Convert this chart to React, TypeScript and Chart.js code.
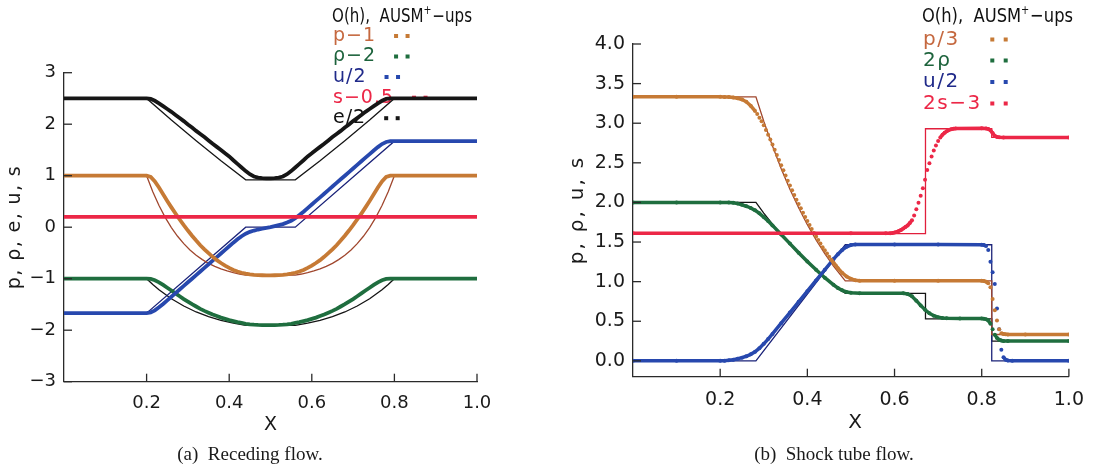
import React, { useEffect, useRef } from 'react';
import { Chart, registerables } from 'chart.js';

Chart.register(...registerables);
Chart.defaults.font.family = '"DejaVu Sans", "Liberation Sans", sans-serif';

// ================= Panel (a): Receding flow =================
const A_X = [0, 0.1, 0.2, 0.21, 0.22, 0.23, 0.24, 0.25, 0.26, 0.27, 0.28, 0.29, 0.3, 0.31, 0.32, 0.33, 0.34, 0.35, 0.36, 0.37, 0.38, 0.39, 0.4, 0.41, 0.42, 0.43, 0.44, 0.45, 0.46, 0.47, 0.48, 0.49, 0.5, 0.51, 0.52, 0.53, 0.54, 0.55, 0.56, 0.57, 0.58, 0.59, 0.6, 0.61, 0.62, 0.63, 0.64, 0.65, 0.66, 0.67, 0.68, 0.69, 0.7, 0.71, 0.72, 0.73, 0.74, 0.75, 0.76, 0.77, 0.78, 0.79, 0.8, 0.9, 1];
// numerical (AUSM+-ups) values
const A_E_NUM = [2.5, 2.5, 2.5, 2.49, 2.455, 2.405, 2.35, 2.295, 2.24, 2.18, 2.12, 2.06, 1.995, 1.935, 1.87, 1.81, 1.75, 1.685, 1.62, 1.56, 1.5, 1.435, 1.375, 1.3, 1.23, 1.16, 1.09, 1.03, 0.985, 0.962, 0.953, 0.95, 0.95, 0.953, 0.962, 0.985, 1.03, 1.09, 1.16, 1.23, 1.3, 1.375, 1.435, 1.5, 1.56, 1.62, 1.685, 1.75, 1.81, 1.87, 1.935, 1.995, 2.06, 2.12, 2.18, 2.24, 2.295, 2.35, 2.405, 2.455, 2.49, 2.5, 2.5, 2.5, 2.5];
const A_P_NUM = [1, 1, 1, 0.975, 0.89, 0.77, 0.64, 0.51, 0.385, 0.265, 0.15, 0.04, -0.065, -0.165, -0.26, -0.35, -0.43, -0.505, -0.575, -0.64, -0.695, -0.745, -0.79, -0.83, -0.86, -0.885, -0.903, -0.916, -0.925, -0.93, -0.933, -0.935, -0.935, -0.933, -0.93, -0.925, -0.916, -0.903, -0.885, -0.86, -0.83, -0.79, -0.745, -0.695, -0.64, -0.575, -0.505, -0.43, -0.35, -0.26, -0.165, -0.065, 0.04, 0.15, 0.265, 0.385, 0.51, 0.64, 0.77, 0.89, 0.975, 1, 1, 1, 1];
const A_R_NUM = [-1, -1, -1, -1.005, -1.03, -1.07, -1.12, -1.175, -1.23, -1.285, -1.34, -1.395, -1.445, -1.495, -1.54, -1.585, -1.625, -1.66, -1.695, -1.725, -1.755, -1.78, -1.805, -1.825, -1.845, -1.86, -1.875, -1.885, -1.892, -1.897, -1.9, -1.9, -1.9, -1.9, -1.897, -1.892, -1.885, -1.875, -1.86, -1.845, -1.825, -1.805, -1.78, -1.755, -1.725, -1.695, -1.66, -1.625, -1.585, -1.54, -1.495, -1.445, -1.395, -1.34, -1.285, -1.23, -1.175, -1.12, -1.07, -1.03, -1.005, -1, -1, -1, -1];
const A_U_NUM = [-1.67, -1.67, -1.67, -1.655, -1.615, -1.555, -1.49, -1.42, -1.35, -1.28, -1.21, -1.14, -1.07, -1.0, -0.93, -0.86, -0.79, -0.72, -0.65, -0.58, -0.51, -0.44, -0.37, -0.3, -0.235, -0.175, -0.125, -0.09, -0.065, -0.045, -0.03, -0.015, 0, 0.02, 0.04, 0.06, 0.09, 0.125, 0.175, 0.235, 0.3, 0.37, 0.44, 0.51, 0.58, 0.65, 0.72, 0.79, 0.86, 0.93, 1.0, 1.07, 1.14, 1.21, 1.28, 1.35, 1.42, 1.49, 1.555, 1.615, 1.655, 1.67, 1.67, 1.67, 1.67];
const A_S_X = [0, 1];
const A_S_NUM = [0.2, 0.2];
// exact O(h) values
const A_E_EX_X = [0, 0.2, 0.26, 0.32, 0.38, 0.44, 0.56, 0.62, 0.68, 0.74, 0.8, 1];
const A_E_EX = [2.5, 2.5, 2.08, 1.68, 1.29, 0.92, 0.92, 1.29, 1.68, 2.08, 2.5, 2.5];
const A_P_EX_X = [0, 0.2, 0.215, 0.23, 0.245, 0.26, 0.275, 0.29, 0.305, 0.32, 0.335, 0.35, 0.365, 0.38, 0.395, 0.41, 0.425, 0.44, 0.56, 0.575, 0.59, 0.605, 0.62, 0.635, 0.65, 0.665, 0.68, 0.695, 0.71, 0.725, 0.74, 0.755, 0.77, 0.785, 0.8, 1];
const A_P_EX = [1, 1, 0.69, 0.42, 0.19, -0.007, -0.176, -0.32, -0.442, -0.544, -0.63, -0.702, -0.761, -0.81, -0.85, -0.883, -0.909, -0.93, -0.93, -0.909, -0.883, -0.85, -0.81, -0.761, -0.702, -0.63, -0.544, -0.442, -0.32, -0.176, -0.007, 0.19, 0.42, 0.69, 1, 1];
const A_R_EX_X = [0, 0.2, 0.215, 0.23, 0.26, 0.29, 0.32, 0.35, 0.38, 0.41, 0.44, 0.56, 0.59, 0.62, 0.65, 0.68, 0.71, 0.74, 0.77, 0.785, 0.8, 1];
const A_R_EX = [-1, -1, -1.112, -1.214, -1.39, -1.531, -1.646, -1.737, -1.808, -1.863, -1.905, -1.905, -1.863, -1.808, -1.737, -1.646, -1.531, -1.39, -1.214, -1.112, -1, -1];
const A_U_EX_X = [0, 0.2, 0.44, 0.56, 0.8, 1];
const A_U_EX = [-1.67, -1.67, 0, 0, 1.67, 1.67];
const A_S_EX = [0.2, 0.2];
const A_Y_TICKS = [-3, -2, -1, 0, 1, 2, 3];

// ================= Panel (b): Shock tube flow =================
const B_P_X = [0, 0.1, 0.2, 0.21, 0.22, 0.23, 0.24, 0.25, 0.26, 0.27, 0.28, 0.285, 0.29, 0.295, 0.3, 0.305, 0.31, 0.315, 0.32, 0.325, 0.33, 0.335, 0.34, 0.345, 0.35, 0.355, 0.36, 0.365, 0.37, 0.375, 0.38, 0.385, 0.39, 0.395, 0.4, 0.405, 0.41, 0.415, 0.42, 0.425, 0.43, 0.435, 0.44, 0.445, 0.45, 0.455, 0.46, 0.465, 0.47, 0.48, 0.49, 0.5, 0.51, 0.52, 0.6, 0.7, 0.8, 0.805, 0.81, 0.815, 0.82, 0.825, 0.83, 0.835, 0.84, 0.845, 0.85, 0.855, 0.86, 0.9, 1];
const B_P_NUM = [3.333, 3.333, 3.333, 3.332, 3.33, 3.325, 3.315, 3.3, 3.27, 3.22, 3.155, 3.115, 3.07, 3.025, 2.975, 2.915, 2.855, 2.795, 2.73, 2.665, 2.6, 2.535, 2.47, 2.405, 2.34, 2.275, 2.215, 2.155, 2.095, 2.035, 1.98, 1.925, 1.87, 1.815, 1.765, 1.715, 1.665, 1.615, 1.57, 1.525, 1.48, 1.435, 1.395, 1.355, 1.315, 1.275, 1.24, 1.205, 1.17, 1.11, 1.065, 1.035, 1.018, 1.012, 1.01, 1.01, 1.01, 1.008, 1.0, 0.98, 0.93, 0.78, 0.64, 0.51, 0.4, 0.35, 0.338, 0.335, 0.333, 0.333, 0.333];
const B_R_X = [0, 0.1, 0.2, 0.22, 0.23, 0.24, 0.25, 0.26, 0.27, 0.28, 0.29, 0.3, 0.31, 0.32, 0.34, 0.36, 0.38, 0.4, 0.42, 0.44, 0.46, 0.47, 0.48, 0.49, 0.5, 0.52, 0.62, 0.63, 0.64, 0.65, 0.66, 0.67, 0.68, 0.69, 0.7, 0.71, 0.72, 0.75, 0.8, 0.805, 0.81, 0.815, 0.82, 0.825, 0.83, 0.835, 0.84, 0.845, 0.85, 0.86, 1];
const B_R_NUM = [2, 2, 2, 2, 1.995, 1.985, 1.97, 1.952, 1.93, 1.9, 1.862, 1.815, 1.765, 1.71, 1.595, 1.48, 1.365, 1.255, 1.15, 1.05, 0.96, 0.92, 0.89, 0.87, 0.86, 0.854, 0.853, 0.845, 0.815, 0.76, 0.7, 0.645, 0.6, 0.57, 0.552, 0.542, 0.537, 0.535, 0.535, 0.533, 0.525, 0.51, 0.47, 0.4, 0.33, 0.29, 0.268, 0.257, 0.252, 0.25, 0.25];
const B_U_X = [0, 0.1, 0.2, 0.21, 0.22, 0.23, 0.24, 0.25, 0.26, 0.27, 0.28, 0.29, 0.3, 0.31, 0.32, 0.34, 0.36, 0.38, 0.4, 0.42, 0.44, 0.46, 0.47, 0.48, 0.49, 0.5, 0.51, 0.6, 0.7, 0.8, 0.805, 0.81, 0.815, 0.82, 0.825, 0.83, 0.835, 0.84, 0.845, 0.85, 0.855, 0.86, 0.87, 1];
const B_U_NUM = [0, 0, 0, 0.002, 0.007, 0.015, 0.026, 0.04, 0.058, 0.082, 0.115, 0.16, 0.215, 0.275, 0.34, 0.475, 0.61, 0.745, 0.88, 1.015, 1.15, 1.285, 1.345, 1.4, 1.44, 1.462, 1.47, 1.47, 1.468, 1.466, 1.462, 1.45, 1.4, 1.25, 1.12, 0.97, 0.66, 0.4, 0.14, 0.045, 0.015, 0.005, 0, 0];
const B_S_X = [0, 0.5, 0.58, 0.59, 0.595, 0.6, 0.605, 0.61, 0.615, 0.62, 0.625, 0.63, 0.635, 0.64, 0.645, 0.65, 0.655, 0.66, 0.665, 0.67, 0.675, 0.68, 0.685, 0.69, 0.695, 0.7, 0.705, 0.71, 0.715, 0.72, 0.725, 0.73, 0.735, 0.74, 0.8, 0.81, 0.815, 0.82, 0.825, 0.83, 0.835, 0.84, 0.85, 1];
const B_S_NUM = [1.61, 1.61, 1.61, 1.612, 1.615, 1.62, 1.628, 1.64, 1.653, 1.67, 1.69, 1.71, 1.74, 1.775, 1.835, 1.915, 1.995, 2.085, 2.18, 2.285, 2.41, 2.495, 2.58, 2.655, 2.72, 2.775, 2.82, 2.855, 2.88, 2.9, 2.915, 2.925, 2.93, 2.933, 2.935, 2.933, 2.928, 2.91, 2.875, 2.84, 2.827, 2.822, 2.82, 2.82];
// exact O(h)
const B_P_EX_X = [0, 0.282, 0.3, 0.32, 0.34, 0.36, 0.38, 0.4, 0.42, 0.44, 0.46, 0.487, 0.823, 0.823, 1];
const B_P_EX = [3.333, 3.333, 3.025, 2.711, 2.426, 2.167, 1.932, 1.719, 1.527, 1.353, 1.197, 1.01, 1.01, 0.333, 0.333];
const B_R_EX_X = [0, 0.282, 0.3, 0.32, 0.34, 0.36, 0.38, 0.4, 0.42, 0.44, 0.46, 0.487, 0.671, 0.671, 0.823, 0.823, 1];
const B_R_EX = [2, 2, 1.866, 1.726, 1.594, 1.47, 1.355, 1.246, 1.145, 1.05, 0.962, 0.853, 0.853, 0.531, 0.531, 0.25, 0.25];
const B_U_EX_X = [0, 0.282, 0.487, 0.823, 0.823, 1];
const B_U_EX = [0, 0, 1.466, 1.466, 0, 0];
const B_S_EX_X = [0, 0.671, 0.671, 0.823, 0.823, 1];
const B_S_EX = [1.605, 1.605, 2.93, 2.93, 2.82, 2.82];
const B_Y_TICKS = [0, 0.5, 1, 1.5, 2, 2.5, 3, 3.5, 4];

const X_TICKS = [0.2, 0.4, 0.6, 0.8, 1.0];
const LEGEND_HEAD = ['O(h),  AUSM', '+', '\u2212ups'];
const A_LEGEND = ['p\u22121', '\u03C1\u22122', 'u/2', 's\u22120.5', 'e/2'];
const B_LEGEND = ['p/3', '2\u03C1', 'u/2', '2s\u22123'];

// ================= styling =================
const COL = {
  pNum: '#C67A35', pEx: '#A0472E', pTxt: '#C5683F',
  rNum: '#1F6E3F', rEx: '#141414', rTxt: '#1D633C',
  uNum: '#2748AE', uEx: '#1B2379', uTxt: '#202A8A',
  sNum: '#EC2747', sEx: '#E11F3C', sTxt: '#EC2747',
  eNum: '#161616', eEx: '#161616', eTxt: '#111111',
};
const AXIS = '#2a2a2a';
const TXT = '#1a1a1a';
const W = 548;
const H = 468;

const pts = (xs: number[], ys: number[]) => xs.map((x, i) => ({ x, y: ys[i] }));

const isSteep = (c: any, ratio: number) => {
  const dx = Math.abs(c.p1.x - c.p0.x);
  const dy = Math.abs(c.p1.y - c.p0.y);
  return dy > ratio * dx && dy > 2.5;
};

function numDs(xs: number[], ys: number[], color: string, order: number, dotR: number, ratio: number, bw: number) {
  const ds: any = {
    data: pts(xs, ys), borderColor: color, backgroundColor: color, borderWidth: bw,
    pointRadius: dotR, pointHoverRadius: dotR, pointBorderWidth: 0, pointBackgroundColor: color,
    tension: 0, order,
  };
  if (ratio > 0) ds.segment = { borderColor: (c: any) => (isSteep(c, ratio) ? 'rgba(0,0,0,0)' : undefined) };
  return ds;
}
function exDs(xs: number[], ys: number[], color: string, order: number) {
  return { data: pts(xs, ys), borderColor: color, borderWidth: 1.3, pointRadius: 0, tension: 0, order };
}

interface Entry { label: string; txt: string; sq: string; y: number }
interface Decor {
  font: number; headX: number; headY: number; headW: number; legX: number;
  entries: Entry[]; sqFixed: number | null; sqMinW: number; sqPad: number; sqGap: number; ls: number;
  yTitle: string; yTitleX: number; yTitleY: number; yTitleLs: number;
  xTitleX: number; xTitleY: number; caption: string; capX: number; capY: number;
}

function decorPlugin(d: Decor) {
  return {
    id: 'decor',
    beforeDatasetsDraw(chart: any) {
      const ctx = chart.ctx as CanvasRenderingContext2D;
      ctx.save();
      ctx.textBaseline = 'middle';
      ctx.textAlign = 'left';
      (ctx as any).letterSpacing = '0px';
      const f = `${d.font}px "DejaVu Sans"`;
      const fs = `${Math.round(d.font * 0.62)}px "DejaVu Sans"`;
      ctx.font = f;
      const w1 = ctx.measureText(LEGEND_HEAD[0]).width;
      const w3 = ctx.measureText(LEGEND_HEAD[2]).width;
      ctx.font = fs;
      const w2 = ctx.measureText(LEGEND_HEAD[1]).width + 1;
      const sx = d.headW / (w1 + w2 + w3);
      ctx.save();
      ctx.translate(d.headX, d.headY);
      ctx.scale(sx, 1);
      ctx.fillStyle = '#111';
      ctx.font = f;
      ctx.fillText(LEGEND_HEAD[0], 0, 0);
      ctx.font = fs;
      ctx.fillText(LEGEND_HEAD[1], w1, -d.font * 0.3);
      ctx.font = f;
      ctx.fillText(LEGEND_HEAD[2], w1 + w2, 0);
      ctx.restore();
      ctx.font = f;
      (ctx as any).letterSpacing = `${d.ls}px`;
      for (const e of d.entries) {
        ctx.fillStyle = e.txt;
        ctx.fillText(e.label, d.legX, e.y);
        const w = ctx.measureText(e.label).width;
        const s1 = d.sqFixed !== null ? d.sqFixed : d.legX + Math.max(w, d.sqMinW) + d.sqPad;
        ctx.fillStyle = e.sq;
        ctx.fillRect(s1 - 2, e.y - 2, 4, 4);
        ctx.fillRect(s1 + d.sqGap - 2, e.y - 2, 4, 4);
      }
      ctx.restore();
    },
    afterDraw(chart: any) {
      const ctx = chart.ctx as CanvasRenderingContext2D;
      const ca = chart.chartArea;
      const xs = chart.scales.x;
      const ys = chart.scales.y;
      ctx.save();
      ctx.strokeStyle = AXIS;
      ctx.lineWidth = 1.3;
      for (const t of ys.ticks) {
        const py = ys.getPixelForValue(t.value);
        ctx.beginPath(); ctx.moveTo(ca.left, py); ctx.lineTo(ca.left + 8, py); ctx.stroke();
      }
      for (const t of xs.ticks) {
        const px = xs.getPixelForValue(t.value);
        ctx.beginPath(); ctx.moveTo(px, ca.bottom); ctx.lineTo(px, ca.bottom - 8); ctx.stroke();
      }
      ctx.fillStyle = TXT;
      ctx.textAlign = 'center';
      ctx.textBaseline = 'middle';
      ctx.font = `${d.font}px "DejaVu Sans"`;
      (ctx as any).letterSpacing = `${d.yTitleLs}px`;
      ctx.save();
      ctx.translate(d.yTitleX, d.yTitleY);
      ctx.rotate(-Math.PI / 2);
      ctx.fillText(d.yTitle, 0, 0);
      ctx.restore();
      (ctx as any).letterSpacing = '0px';
      ctx.fillText('X', d.xTitleX, d.xTitleY);
      ctx.font = '19px "Liberation Serif", "Times New Roman", serif';
      ctx.fillText(d.caption, d.capX, d.capY);
      ctx.restore();
    },
  };
}

function buildConfig(p: any) {
  return {
    type: 'line',
    data: { datasets: p.datasets },
    options: {
      responsive: false, animation: false, devicePixelRatio: 1, events: [],
      layout: { padding: { top: p.padTop, right: p.padRight, left: 0, bottom: 0 } },
      plugins: { legend: { display: false }, tooltip: { enabled: false } },
      scales: {
        x: {
          type: 'linear', min: 0, max: 1,
          grid: { display: false, drawTicks: false },
          border: { display: true, color: AXIS, width: 1.3 },
          afterBuildTicks: (s: any) => { s.ticks = X_TICKS.map((v) => ({ value: v })); },
          afterFit: (s: any) => { s.height = p.xAxisH; },
          ticks: { autoSkip: false, maxRotation: 0, padding: p.xPad, color: TXT, font: { size: p.tickSize }, callback: (v: any) => Number(v).toFixed(1) },
        },
        y: {
          type: 'linear', min: p.yMin, max: p.yMax,
          grid: { display: false, drawTicks: false },
          border: { display: true, color: AXIS, width: 1.3 },
          afterBuildTicks: (s: any) => { s.ticks = p.yTicks.map((v: number) => ({ value: v })); },
          afterFit: (s: any) => { s.width = p.yAxisW; },
          ticks: { autoSkip: false, padding: 8, color: TXT, font: { size: p.tickSize }, callback: p.yFmt },
        },
      },
    },
    plugins: [decorPlugin(p.decor)],
  };
}

const panelA = {
  padTop: 72.7, padRight: W - 477, xAxisH: H - 381.7, yAxisW: 64, xPad: 11, tickSize: 18,
  yMin: -3, yMax: 3, yTicks: A_Y_TICKS,
  yFmt: (v: any) => (Number(v) < 0 ? '\u2212' + Math.abs(Number(v)) : String(v)),
  datasets: [
    numDs(A_S_X, A_S_NUM, COL.sNum, 0, 0, 0, 3.8),
    numDs(A_X, A_E_NUM, COL.eNum, 1, 0, 0, 3.8),
    numDs(A_X, A_P_NUM, COL.pNum, 2, 0, 0, 3.8),
    numDs(A_X, A_U_NUM, COL.uNum, 3, 0, 0, 3.8),
    numDs(A_X, A_R_NUM, COL.rNum, 4, 0, 0, 3.8),
    exDs(A_S_X, A_S_EX, COL.sEx, 10),
    exDs(A_E_EX_X, A_E_EX, COL.eEx, 11),
    exDs(A_P_EX_X, A_P_EX, COL.pEx, 12),
    exDs(A_U_EX_X, A_U_EX, COL.uEx, 13),
    exDs(A_R_EX_X, A_R_EX, COL.rEx, 14),
  ],
  decor: {
    font: 19, headX: 332, headY: 17, headW: 140, legX: 333,
    entries: [
      { label: A_LEGEND[0], txt: COL.pTxt, sq: COL.pNum, y: 36 },
      { label: A_LEGEND[1], txt: COL.rTxt, sq: COL.rNum, y: 56.5 },
      { label: A_LEGEND[2], txt: COL.uTxt, sq: COL.uNum, y: 77 },
      { label: A_LEGEND[3], txt: COL.sTxt, sq: COL.sNum, y: 97.7 },
      { label: A_LEGEND[4], txt: COL.eTxt, sq: COL.eNum, y: 118.2 },
    ],
    sqFixed: null, sqMinW: 33, sqPad: 20, sqGap: 11.5, ls: 1,
    yTitle: 'p, \u03C1, e, u, s', yTitleX: 15.5, yTitleY: 227, yTitleLs: 1.4,
    xTitleX: 270.5, xTitleY: 425, caption: '(a)  Receding flow.', capX: 250, capY: 455,
  } as Decor,
};

const panelB = {
  padTop: 44, padRight: W - 527, xAxisH: H - 376.7, yAxisW: 85, xPad: 12, tickSize: 19,
  yMin: -0.2, yMax: 4, yTicks: B_Y_TICKS,
  yFmt: (v: any) => Number(v).toFixed(1),
  datasets: [
    numDs(B_S_X, B_S_NUM, COL.sNum, 0, 2, 1.5, 3.5),
    numDs(B_P_X, B_P_NUM, COL.pNum, 1, 2, 1.3, 3.5),
    numDs(B_U_X, B_U_NUM, COL.uNum, 2, 2, 1.6, 3.5),
    numDs(B_R_X, B_R_NUM, COL.rNum, 3, 2, 1.6, 3.5),
    exDs(B_S_EX_X, B_S_EX, COL.sEx, 10),
    exDs(B_P_EX_X, B_P_EX, COL.pEx, 11),
    exDs(B_U_EX_X, B_U_EX, COL.uEx, 12),
    exDs(B_R_EX_X, B_R_EX, COL.rEx, 13),
  ],
  decor: {
    font: 20, headX: 922 - W, headY: 17, headW: 151, legX: 923 - W,
    entries: [
      { label: B_LEGEND[0], txt: COL.pTxt, sq: COL.pNum, y: 39.5 },
      { label: B_LEGEND[1], txt: COL.rTxt, sq: COL.rNum, y: 60.5 },
      { label: B_LEGEND[2], txt: COL.uTxt, sq: COL.uNum, y: 82 },
      { label: B_LEGEND[3], txt: COL.sTxt, sq: COL.sNum, y: 103.5 },
    ],
    sqFixed: 992.3 - W, sqMinW: 0, sqPad: 0, sqGap: 13.4, ls: 1.5,
    yTitle: 'p, \u03C1, u, s', yTitleX: 578 - W, yTitleY: 210, yTitleLs: 2.2,
    xTitleX: 855 - W, xTitleY: 423, caption: '(b)  Shock tube flow.', capX: 834 - W, capY: 455,
  } as Decor,
};

function Panel({ cfg, left }: { cfg: any; left: number }) {
  const ref = useRef<HTMLCanvasElement>(null);
  useEffect(() => {
    const chart = new Chart(ref.current as HTMLCanvasElement, buildConfig(cfg) as any);
    return () => chart.destroy();
  }, [cfg]);
  return (
    <canvas ref={ref} width={W} height={H}
      style={{ position: 'absolute', left, top: 0, width: W, height: H, display: 'block' }} />
  );
}

export default function App() {
  return (
    <div style={{ position: 'absolute', left: 0, top: 0, width: 1096, height: 468, background: '#ffffff', overflow: 'hidden' }}>
      <Panel cfg={panelA} left={0} />
      <Panel cfg={panelB} left={W} />
    </div>
  );
}
